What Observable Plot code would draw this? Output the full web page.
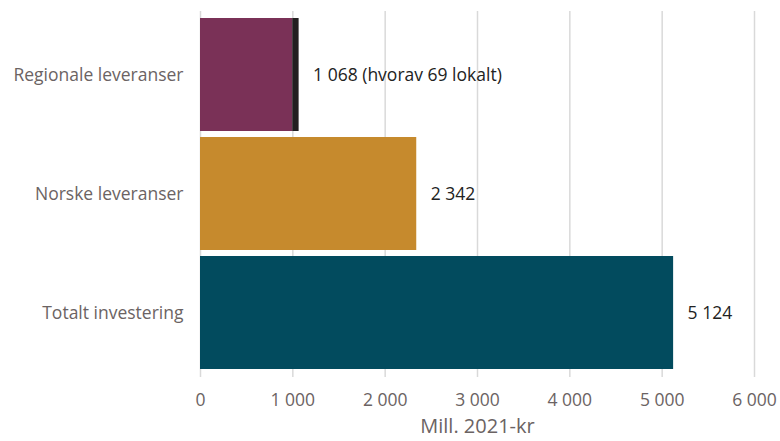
<!DOCTYPE html>
<html>
<head>
<meta charset="utf-8">
<script src="https://cdn.jsdelivr.net/npm/d3@7"></script>
<script src="https://cdn.jsdelivr.net/npm/@observablehq/plot@0.6"></script>
<style>
  html, body { margin: 0; padding: 0; background: #fff; }
  #chart svg { display: block; }
</style>
</head>
<body>
<div id="chart"></div>
<script>
// Leveranser fra investeringen, mill. 2021-kr
const categories = ["Regionale leveranser", "Norske leveranser", "Totalt investering"];
const values = [1068, 2342, 5124];
const lokalt = [69, 0, 0];          // herav lokale leveranser
const colors = ["#7a3157", "#c68a2d", "#024b5e"];
const lokaltColor = "#231f20";
const xTicks = [0, 1000, 2000, 3000, 4000, 5000, 6000];
const xLabel = "Mill. 2021-kr";

const nb = d3.formatLocale({decimal: ",", thousands: " ", grouping: [3], currency: ["", " kr"]});
const fmt = nb.format(",d");

// Segmenter: hoveddel + eventuell lokal del ytterst i stolpen
const segments = [];
categories.forEach((c, i) => {
  const main = values[i] - lokalt[i];
  segments.push({cat: c, x1: 0, x2: main, fill: colors[i]});
  if (lokalt[i] > 0) segments.push({cat: c, x1: main, x2: values[i], fill: lokaltColor});
});
const labels = categories.map((c, i) => ({
  cat: c,
  x: values[i],
  text: fmt(values[i]) + (lokalt[i] > 0 ? ` (hvorav ${fmt(lokalt[i])} lokalt)` : "")
}));

const font = "'Open Sans', Lato, sans-serif";
const fs = 17.5;
const grey = "#6b6363";

const chart = Plot.plot({
  width: 780,
  height: 441,
  marginTop: 11,
  marginBottom: 64,
  marginLeft: 200,
  marginRight: 26,
  style: {fontFamily: font, fontSize: `${fs}px`, color: grey, background: "#fff"},
  x: {domain: [0, 6000], ticks: xTicks, tickFormat: fmt, label: null},
  y: {domain: categories, padding: 0.05, label: null},
  marks: [
    Plot.gridX(xTicks, {stroke: "#d9d9d9", strokeOpacity: 1, strokeWidth: 1.5}),
    Plot.barX(segments, {y: "cat", x1: "x1", x2: "x2", fill: d => d.fill}),
    Plot.text(labels, {
      y: "cat", x: "x", text: "text", textAnchor: "start", dx: 14,
      fill: "#222", fontSize: fs
    }),
    Plot.axisX(xTicks, {tickSize: 0, tickPadding: 16, tickFormat: fmt, fontSize: fs, fill: grey, label: null}),
    Plot.axisY({tickSize: 0, tickPadding: 17, fontSize: fs, fill: grey, label: null}),
    Plot.text([xLabel], {
      frameAnchor: "bottom", dy: 55, text: d => d, fontSize: 20, fill: grey
    })
  ]
});

document.getElementById("chart").appendChild(chart);
</script>
</body>
</html>
